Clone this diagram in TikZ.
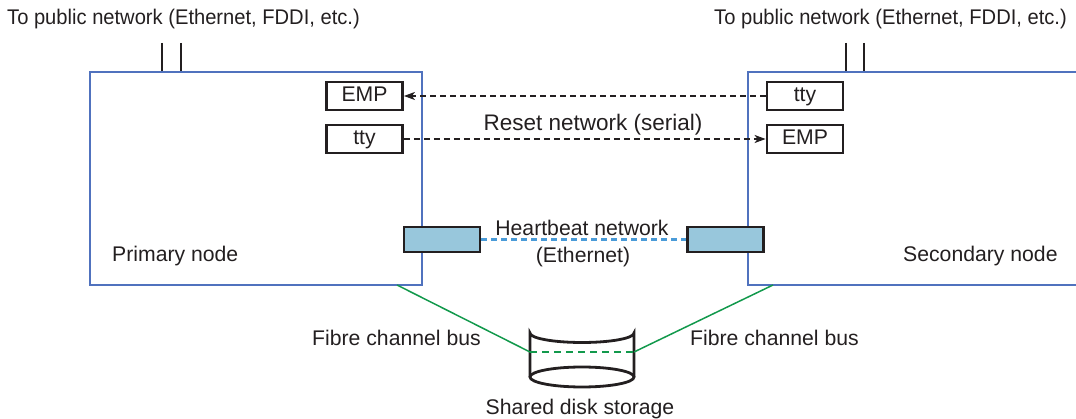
\documentclass[tikz,border=0pt]{standalone}
\usepackage{fontspec}
\setmainfont{Liberation Sans}
\usetikzlibrary{arrows.meta}
\definecolor{txt}{HTML}{231F20}
\definecolor{bord}{HTML}{5072BE}
\definecolor{hbfill}{HTML}{98C7DC}
\definecolor{hbline}{HTML}{4A9BD8}
\definecolor{fibre}{HTML}{12994C}
\begin{document}
\begin{tikzpicture}[x=1pt,y=-1pt, font=\fontsize{21.2}{25}\selectfont, text=txt,
  hostbox/.style={draw=bord, line width=2.6pt, rectangle, inner sep=0},
  portbox/.style={draw=txt, line width=2.8pt, inner sep=0, minimum width=76pt, minimum height=28pt, text height=15pt, text depth=4pt},
  hbbox/.style={portbox, fill=hbfill, minimum height=25pt},
  ctl/.style={draw=txt, line width=1.5pt, dash pattern=on 6pt off 4pt, -{Stealth[length=11pt,width=8pt,inset=3pt]}},
  netline/.style={draw=txt, line width=2.6pt},
  fibreline/.style={draw=fibre, line width=1.5pt},
  lab/.style={anchor=base, inner sep=0}]
\useasboundingbox (0,0) rectangle (1076,419);
\clip (0,0) rectangle (1076,419);
% hosts
\node[hostbox, minimum width=332pt, minimum height=213pt] (prim) at (256,178.5) {};
\node[hostbox, minimum width=342pt, minimum height=213pt] (sec) at (919,178.5) {};
% ports
\node[portbox] (empL) at (364.5,96) {EMP};
\node[portbox] (ttyL) at (364.5,139) {tty};
\node[portbox] (ttyR) at (805,96) {tty};
\node[portbox] (empR) at (805,139) {EMP};
% reset network
\draw[ctl] (ttyR.west) -- (empL.east);
\draw[ctl] (ttyL.east) -- (empR.west);
\node[lab, font=\fontsize{22.5}{26}\selectfont] (reset) at (593,131) {Reset network (serial)};
% heartbeat
\node[hbbox] (hbL) at (442,239.5) {};
\node[hbbox] (hbR) at (725.5,239.5) {};
\draw[draw=hbline, line width=2.4pt, dash pattern=on 6pt off 4pt] (hbL.east) -- (hbR.west);
\node[lab] (hbt) at (582,236) {Heartbeat network};
\node[lab] (hbe) at (583,263) {(Ethernet)};
% public network lines
\coordinate (p1) at (162,43);
\coordinate (p2) at (181,43);
\coordinate (p3) at (846,43);
\coordinate (p4) at (864,43);
\draw[netline] (p1) -- (p1 |- prim.north);
\draw[netline] (p2) -- (p2 |- prim.north);
\draw[netline] (p3) -- (p3 |- sec.north);
\draw[netline] (p4) -- (p4 |- sec.north);
\node[lab, anchor=base west] (pubL) at (7,25) {\scalebox{0.95}[1]{To public network (Ethernet, FDDI, etc.)}};
\node[lab, anchor=base east] (pubR) at (1067,25) {\scalebox{0.95}[1]{To public network (Ethernet, FDDI, etc.)}};
% host names
\node[lab, anchor=base west] (pn) at (112,262) {Primary node};
\node[lab, anchor=base west] (sn) at (903,262) {Secondary node};
% disk
\coordinate (dL) at (530,352);
\coordinate (dR) at (634,352);
\draw[draw=txt, line width=2.8pt] (530,377) -- (530,333) arc[start angle=180, end angle=0, x radius=52pt, y radius=-9.5pt] -- (634,377);
\draw[draw=txt, line width=2.8pt] (582,377) ellipse [x radius=52pt, y radius=10pt];
\draw[fibre, line width=1.5pt, dash pattern=on 7pt off 5pt] (dL) -- (dR);
\coordinate (fL) at (397,285);
\coordinate (fR) at (773,285);
\draw[fibreline] (fL) -- (dL);
\draw[fibreline] (fR) -- (dR);
\node[lab, anchor=base west] (fbL) at (312,346) {Fibre channel bus};
\node[lab, anchor=base west] (fbR) at (690,346) {Fibre channel bus};
\node[lab] (sds) at (580,414) {Shared disk storage};
\end{tikzpicture}
\end{document}
